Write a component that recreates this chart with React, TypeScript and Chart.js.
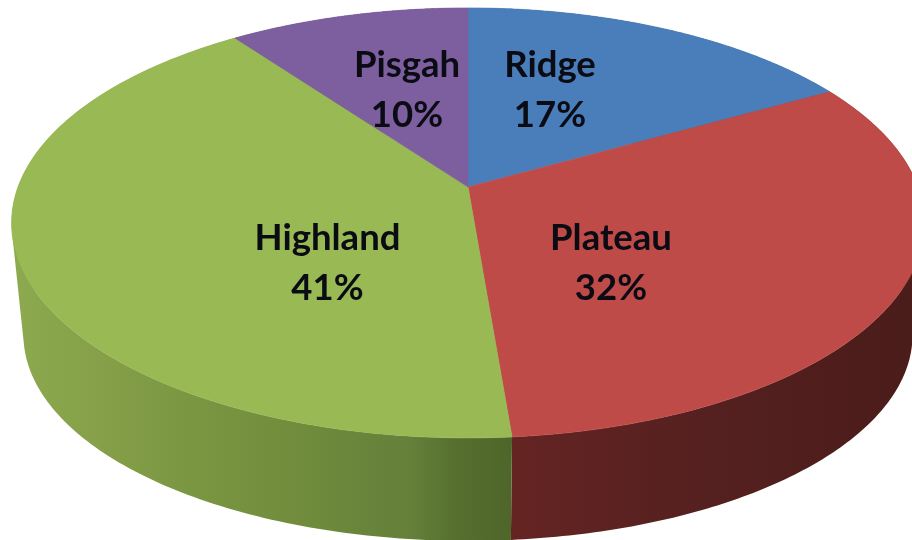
import React, { useEffect, useRef } from "react";
import { Chart, registerables } from "chart.js";

Chart.register(...registerables);

const categories = ["Ridge", "Plateau", "Highland", "Pisgah"];
const shares = [16.8, 31.9, 41.3, 10];
const faceColors = ["#4a7ebb", "#be4b48", "#98b954", "#7d5fa0"];

// Perspective view of the disc
const VIEW = { cx: 468, cy: 187, rx: 450, ry: 209, tilt: 0.167, wallScaleX: 0.974, wallScaleY: 0.958, wallDrop: 113.5 };

const wallStops: [number, string][][] = [
  [[0, "#2e4a6c"], [1, "#2e4a6c"]],
  [[0.56, "#642422"], [0.75, "#562120"], [1, "#4a1c1a"]],
  [[0, "#8fab50"], [0.17, "#7f9a44"], [0.33, "#708c3c"], [0.45, "#64803a"], [0.5, "#566f2f"], [0.56, "#4f662a"]],
  [[0, "#4a3763"], [1, "#4a3763"]],
];

const labelSpots = [
  { x: 550, y1: 77, y2: 127 },
  { x: 611, y1: 250, y2: 300 },
  { x: 327.5, y1: 250, y2: 300 },
  { x: 407, y1: 77, y2: 127 },
];

const project = (a: number, f = 1) => {
  const u = f * Math.cos(a);
  const v = f * Math.sin(a);
  const d = 1 - VIEW.tilt * v;
  return { x: VIEW.cx + (VIEW.rx * u) / d, y: VIEW.cy + (VIEW.ry * v) / d };
};

const lower = (p: { x: number; y: number }) => ({
  x: VIEW.cx + VIEW.wallScaleX * (p.x - VIEW.cx),
  y: VIEW.cy + VIEW.wallDrop + VIEW.wallScaleY * (p.y - VIEW.cy),
});

const perspectivePie = {
  id: "perspectivePie",
  beforeDatasetsDraw(chart: any) {
    const { ctx, width } = chart;
    const arcs = chart.getDatasetMeta(0).data;
    const STEPS = 160;
    const rim = (arc: any) => {
      const pts = [];
      for (let i = 0; i <= STEPS; i++) {
        pts.push(project(arc.startAngle + ((arc.endAngle - arc.startAngle) * i) / STEPS));
      }
      return pts;
    };
    ctx.save();
    // side wall: every small quad wound the same way so their union fills
    arcs.forEach((arc: any, i: number) => {
      const top = rim(arc);
      const g = ctx.createLinearGradient(0, 0, width, 0);
      wallStops[i].forEach(([o, c]) => g.addColorStop(o, c));
      ctx.beginPath();
      for (let k = 0; k < top.length - 1; k++) {
        let quad = [top[k], top[k + 1], lower(top[k + 1]), lower(top[k])];
        let area = 0;
        quad.forEach((p, n) => {
          const q = quad[(n + 1) % 4];
          area += p.x * q.y - q.x * p.y;
        });
        if (area < 0) quad = quad.reverse();
        quad.forEach((p, n) => (n ? ctx.lineTo(p.x, p.y) : ctx.moveTo(p.x, p.y)));
        ctx.closePath();
      }
      ctx.fillStyle = g;
      ctx.fill();
    });
    // top face
    arcs.forEach((arc: any) => {
      ctx.beginPath();
      ctx.moveTo(VIEW.cx, VIEW.cy);
      rim(arc).forEach((p) => ctx.lineTo(p.x, p.y));
      ctx.closePath();
      ctx.fillStyle = arc.options.backgroundColor;
      ctx.strokeStyle = arc.options.backgroundColor;
      ctx.lineWidth = 0.6;
      ctx.fill();
      ctx.stroke();
    });
    // labels
    const total = shares.reduce((s, v) => s + v, 0);
    ctx.fillStyle = "#0b0b14";
    ctx.font = 'bold 36.5px Lato, "Open Sans", sans-serif';
    ctx.textAlign = "center";
    ctx.textBaseline = "alphabetic";
    categories.forEach((name, i) => {
      const s = labelSpots[i];
      ctx.fillText(name, s.x, s.y1);
      ctx.fillText(`${Math.round((shares[i] / total) * 100)}%`, s.x, s.y2);
    });
    ctx.restore();
    return false;
  },
};

export default function App() {
  const ref = useRef<HTMLCanvasElement>(null);
  useEffect(() => {
    const chart = new Chart(ref.current!, {
      type: "pie",
      data: {
        labels: categories,
        datasets: [{ data: shares, backgroundColor: faceColors, borderWidth: 0 }],
      },
      options: {
        animation: false,
        responsive: false,
        plugins: { legend: { display: false }, tooltip: { enabled: false } },
      },
      plugins: [perspectivePie],
    });
    return () => chart.destroy();
  }, []);
  return (
    <canvas
      ref={ref}
      width={912}
      height={540}
      style={{ position: "absolute", left: 0, top: 0, width: 912, height: 540, filter: "blur(0.6px)" }}
    />
  );
}
